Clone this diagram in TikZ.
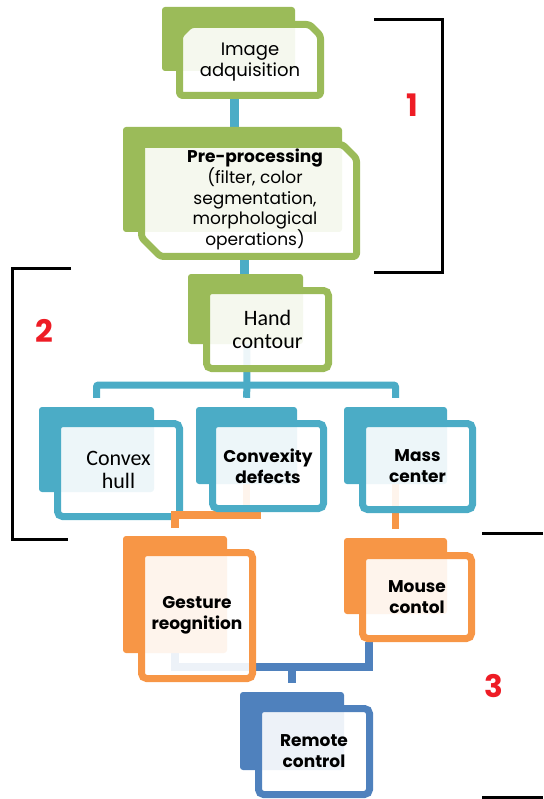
\documentclass[tikz,border=0pt]{standalone}
\usepackage{fontspec}
\newfontfamily\gothic{Poppins}
\newfontfamily\calib{Carlito}
\usetikzlibrary{calc}

\definecolor{leaf}{HTML}{9BBB59}
\definecolor{aqua}{HTML}{4BACC6}
\definecolor{amber}{HTML}{F79646}
\definecolor{steel}{HTML}{4F81BD}
\definecolor{marker}{HTML}{EE1C25}

\pgfdeclarelayer{links}
\pgfdeclarelayer{mid}
\pgfdeclarelayer{top}
\pgfsetlayers{links,main,mid,top}

\tikzset{
  backbox/.style={fill=#1, draw=none, rounded corners=3pt, inner sep=0pt},
  frontbox/.style={draw=#1, line width=7pt, fill=white, fill opacity=0.9,
    text opacity=1, rounded corners=5pt, inner sep=0pt, align=center},
  frontpath/.style={draw=#1, line width=7pt, fill=white, fill opacity=0.9,
    rounded corners=3pt, line join=round},
  gothicR/.style={font=\gothic\fontsize{18}{21}\selectfont, align=center, inner sep=0pt},
  gothicS/.style={font=\gothic\fontsize{17}{20.2}\selectfont, align=center, inner sep=0pt},
  gothicB/.style={font=\gothic\bfseries\fontsize{17}{21}\selectfont},
  calibR/.style={font=\calib\fontsize{22}{23}\selectfont},
  tealbar/.style={draw=aqua, line width=9pt},
  tealthin/.style={draw=aqua, line width=7pt},
  amberbar/.style={draw=amber, line width=7.5pt},
  steelbar/.style={draw=steel, line width=8.5pt},
  bracket/.style={draw=black, line width=3pt},
  marknum/.style={text=marker, font=\gothic\bfseries\fontsize{31}{31}\selectfont, inner sep=0pt}
}

\begin{document}
\begin{tikzpicture}[x=1pt, y=-1pt]
\useasboundingbox (0,0) rectangle (543,799);

% ---------- stage 1: acquisition and pre-processing ----------
\node[backbox=leaf, minimum width=133pt, minimum height=64pt] (imgB) at (228.5,39) {};
\draw[frontpath=leaf] (179.5,35.5) -- (190.5,24.5) -- (309.5,24.5) -- (320.5,35.5)
  -- (320.5,95.5) -- (179.5,95.5) -- cycle;
\node[gothicR] (imgF) at (250,62) {Image\\adquisition};
\coordinate (imgBot) at (234.5,95.5);

\node[backbox=leaf, minimum width=219pt, minimum height=105pt] (preB) at (232.5,179.5) {};
\draw[frontpath=leaf] (141.5,144.5) -- (342.5,144.5) -- (356.5,158.5) -- (356.5,256.5)
  -- (160.5,256.5) -- (141.5,237.5) -- cycle;
\node[gothicS] (preF) at (255,199.5)
  {\textbf{Pre-processing}\\(filter, color\\segmentation,\\morphological\\operations)};
\coordinate (preBot) at (244,256.5);

% ---------- stage 2: contour features ----------
\node[backbox=leaf, minimum width=115pt, minimum height=70pt] (handB) at (245.5,309) {};
\node[frontbox=leaf, calibR, minimum width=122pt, minimum height=78pt] (handF) at (267.5,329.5) {Hand\\contour};

\node[backbox=aqua, minimum width=115pt, minimum height=85pt] (convB) at (96.5,449.5) {};
\node[frontbox=aqua, calibR, minimum width=122pt, minimum height=93pt] (convF) at (118.5,470) {Convex\\hull};

\begin{pgfonlayer}{top}
\node[backbox=aqua, minimum width=101pt, minimum height=77pt] (cdB) at (246.5,445.5) {};
\node[frontbox=aqua, gothicB, minimum width=111pt, minimum height=85pt] (cdF) at (268,466) {Convexity\\defects};

\node[backbox=aqua, minimum width=103pt, minimum height=77pt] (mcB) at (395.5,445.5) {};
\node[frontbox=aqua, gothicB, minimum width=110pt, minimum height=86pt] (mcF) at (417.5,466.5) {Mass\\center};

% ---------- stage 3: control ----------
\node[backbox=amber, minimum width=104pt, minimum height=117pt] (gestB) at (175,594.5) {};
\node[frontbox=amber, gothicB, minimum width=111pt, minimum height=126pt] (gestF) at (197,615.5) {Gesture\\reognition};

\node[backbox=amber, minimum width=103pt, minimum height=76pt] (mouseB) at (395.5,576) {};
\node[frontbox=amber, gothicB, minimum width=109pt, minimum height=83pt] (mouseF) at (417,597) {Mouse\\contol};

\node[backbox=steel, minimum width=104pt, minimum height=78pt] (remB) at (292,731) {};
\node[frontbox=steel, gothicB, minimum width=111pt, minimum height=86pt] (remF) at (314,751.5) {Remote\\control};
\end{pgfonlayer}

% ---------- connectors ----------
\begin{pgfonlayer}{links}
\draw[tealbar] (imgBot) -- (imgBot |- preB.center);
\draw[tealbar] (preBot) -- (preBot |- handB.center);
\coordinate (tj) at (247,385);
\draw[tealthin] (handB.center -| cdB.north) -- (tj);
\draw[tealthin, rounded corners=2pt] ([yshift=9pt]convB.north) |- (tj) -| ([yshift=9pt]mcB.north);
\draw[tealthin] (tj) -- ([yshift=9pt]cdB.north);

\coordinate (bj) at (369,667);
\draw[steelbar] (gestB.center) |- (bj) -- (bj |- mouseF.south);
\draw[steelbar] (bj -| remB.north) -- ([yshift=9pt]remB.north);
\end{pgfonlayer}

\begin{pgfonlayer}{mid}
\coordinate (oR) at (261,515);
\draw[amberbar] (cdB.center) -- (cdB.center |- oR);
\draw[amberbar] (oR) -| ([yshift=8pt]gestB.north);
\draw[amberbar] (mcB.center) -- ([yshift=9pt]mouseB.north);
\end{pgfonlayer}

% ---------- stage brackets ----------
\draw[bracket] (374,20) -- (442,20) -- (442,272) -- (374,272);
\draw[bracket] (71,268) -- (12,268) -- (12,539) -- (68,539);
\draw[bracket] (482,533) -- (543,533);
\draw[bracket] (482,797) -- (543,797);

\node[marknum] (s1) at (412,105) {1};
\node[marknum] (s2) at (44,331) {2};
\node[marknum] (s3) at (494,686) {3};
\end{tikzpicture}
\end{document}
